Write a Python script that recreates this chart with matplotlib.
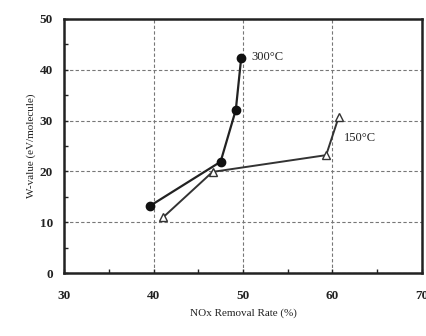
import matplotlib
matplotlib.use("Agg")
import matplotlib.pyplot as plt
from matplotlib.ticker import MultipleLocator

x_300 = [39.6, 47.5, 49.2, 49.8]
y_300 = [13.2, 21.9, 32.1, 42.3]
x_150 = [41.1, 46.6, 59.3, 60.7]
y_150 = [11.0, 19.9, 23.2, 30.7]
xticks = [30, 40, 50, 60, 70]
yticks = [0, 10, 20, 30, 40, 50]

plt.rcParams['font.family'] = ['Liberation Serif', 'DejaVu Serif']

fig = plt.figure(figsize=(4.27, 3.36), dpi=100)
ax = fig.add_axes([0.150, 0.1875, 0.838, 0.756])

ax.plot(x_300, y_300, '-', color='#222222', lw=1.6, marker='o', ms=6,
        mfc='#111111', mec='#111111', zorder=3)
ax.plot(x_150, y_150, '-', color='#333333', lw=1.4, marker='^', ms=6,
        mfc='white', mec='#333333', zorder=3)

ax.text(50.9, 42.5, '300°C', fontsize=9, color='#222222', va='center')
ax.text(61.3, 26.5, '150°C', fontsize=9, color='#222222', va='center')

ax.set_xlim(30, 70)
ax.set_ylim(0, 50)
ax.set_xticks(xticks)
ax.set_yticks(yticks)
ax.xaxis.set_minor_locator(MultipleLocator(5))
ax.yaxis.set_minor_locator(MultipleLocator(5))
ax.tick_params(which='both', direction='in', length=3, width=1, labelsize=9.5,
               colors='#222222')
ax.tick_params(axis='x', which='major', pad=12)
ax.tick_params(axis='y', which='major', pad=8)
for lbl in ax.get_xticklabels() + ax.get_yticklabels():
    lbl.set_fontweight('bold')
ax.grid(True, which='major', linestyle=(0, (3, 2)), color='#777777', lw=0.8)
for s in ax.spines.values():
    s.set_linewidth(1.8)
    s.set_color('#222222')

ax.set_xlabel('NOx Removal Rate (%)', fontsize=8, color='#222222', labelpad=5)
ax.set_ylabel('W-value (eV/molecule)', fontsize=8, color='#222222', labelpad=3)

fig.savefig('out.png', dpi=100)
